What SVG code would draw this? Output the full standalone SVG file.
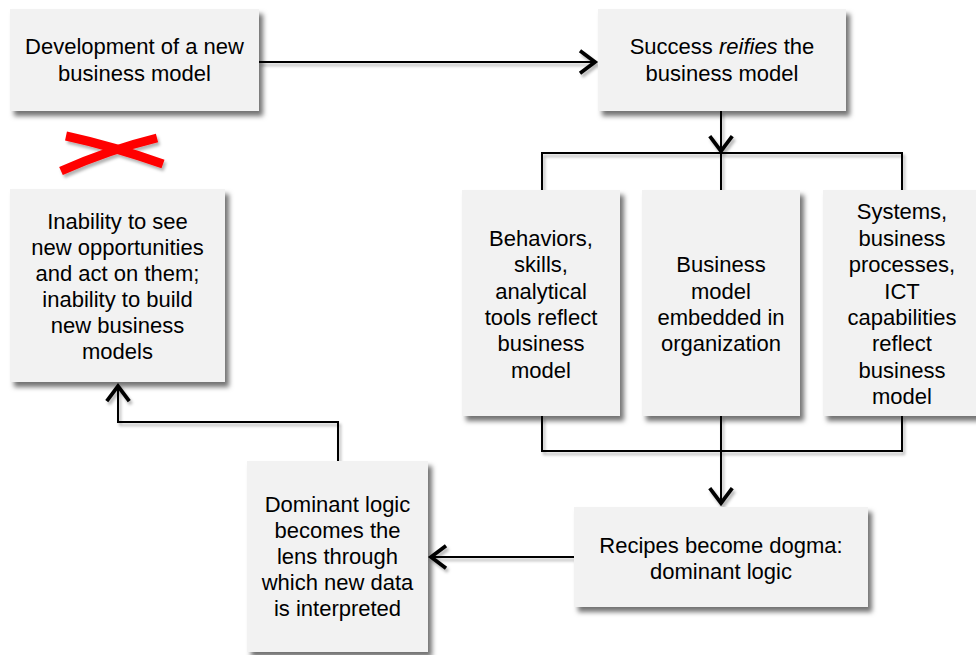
<svg xmlns="http://www.w3.org/2000/svg" width="976" height="655" viewBox="0 0 976 655">
  <style>
    .box { fill: #f2f2f2; filter: url(#shadow); }
    .lbl { font-family: "Liberation Sans", Arial, sans-serif; font-size: 22px; fill: #000; text-anchor: middle; }
    .wire { fill: none; stroke: #000; stroke-width: 2; }
    .head { fill: none; stroke: #000; stroke-width: 3; }
  </style>
  <defs>
    <filter id="shadow" x="-10%" y="-10%" width="130%" height="130%">
      <feDropShadow dx="4" dy="5" stdDeviation="2.5" flood-color="#000" flood-opacity="0.55"/>
    </filter>
    <!-- user-space region so straight (zero-height) lines keep their shadow -->
    <filter id="lineShadow" filterUnits="userSpaceOnUse" x="0" y="0" width="976" height="655">
      <feDropShadow dx="2" dy="3" stdDeviation="1.5" flood-color="#000" flood-opacity="0.3"/>
    </filter>
    <marker id="arrow" markerUnits="userSpaceOnUse" markerWidth="30" markerHeight="30" viewBox="-16 -12 20 24" refX="0" refY="0" orient="auto" overflow="visible">
      <path class="head" d="M -12 -9 L 0 0 L -12 9"/>
    </marker>
  </defs>

  <rect width="976" height="655" fill="#fff"/>

  <!-- connectors -->
  <g id="connectors" filter="url(#lineShadow)">
    <path class="wire" d="M 259 62 H 595" marker-end="url(#arrow)"/>
    <path class="wire" d="M 721 111 V 151" marker-end="url(#arrow)"/>
    <path class="wire" d="M 542 190 V 153 H 902 V 190 M 721 153 V 190"/>
    <path class="wire" d="M 542 416 V 451 H 902 V 416"/>
    <path class="wire" d="M 721 416 V 503" marker-end="url(#arrow)"/>
    <path class="wire" d="M 574 557 H 431" marker-end="url(#arrow)"/>
    <path class="wire" d="M 338 461 V 422 H 118 V 386" marker-end="url(#arrow)"/>
  </g>

  <!-- crossed-out link -->
  <g id="cross" filter="url(#lineShadow)">
    <path d="M 66 136 Q 112 146 163 164" fill="none" stroke="#ff0000" stroke-width="9"/>
    <path d="M 61 171 Q 108 150 157 138" fill="none" stroke="#ff0000" stroke-width="9"/>
  </g>

  <g id="new-model">
    <rect class="box" x="10" y="9" width="249" height="102"/>
    <text class="lbl" x="134.5" y="54">Development of a new</text>
    <text class="lbl" x="134.5" y="81">business model</text>
  </g>

  <g id="success">
    <rect class="box" x="598" y="9" width="248" height="102"/>
    <text class="lbl" x="722" y="54">Success <tspan font-style="italic">reifies</tspan> the</text>
    <text class="lbl" x="722" y="81">business model</text>
  </g>

  <g id="inability">
    <rect class="box" x="10" y="189" width="215" height="193"/>
    <text class="lbl" x="117.5" y="229">Inability to see</text>
    <text class="lbl" x="117.5" y="255">new opportunities</text>
    <text class="lbl" x="117.5" y="281">and act on them;</text>
    <text class="lbl" x="117.5" y="307">inability to build</text>
    <text class="lbl" x="117.5" y="333">new business</text>
    <text class="lbl" x="117.5" y="359">models</text>
  </g>

  <g id="behaviors">
    <rect class="box" x="462" y="190" width="158" height="226"/>
    <text class="lbl" x="541" y="246">Behaviors,</text>
    <text class="lbl" x="541" y="272">skills,</text>
    <text class="lbl" x="541" y="299">analytical</text>
    <text class="lbl" x="541" y="325">tools reflect</text>
    <text class="lbl" x="541" y="351">business</text>
    <text class="lbl" x="541" y="378">model</text>
  </g>

  <g id="embedded">
    <rect class="box" x="642" y="190" width="158" height="226"/>
    <text class="lbl" x="721" y="272">Business</text>
    <text class="lbl" x="721" y="299">model</text>
    <text class="lbl" x="721" y="325">embedded in</text>
    <text class="lbl" x="721" y="351">organization</text>
  </g>

  <g id="systems">
    <rect class="box" x="823" y="190" width="158" height="226"/>
    <text class="lbl" x="902" y="219">Systems,</text>
    <text class="lbl" x="902" y="246">business</text>
    <text class="lbl" x="902" y="272">processes,</text>
    <text class="lbl" x="902" y="299">ICT</text>
    <text class="lbl" x="902" y="325">capabilities</text>
    <text class="lbl" x="902" y="351">reflect</text>
    <text class="lbl" x="902" y="378">business</text>
    <text class="lbl" x="902" y="404">model</text>
  </g>

  <g id="recipes">
    <rect class="box" x="574" y="507" width="294" height="100"/>
    <text class="lbl" x="721" y="553">Recipes become dogma:</text>
    <text class="lbl" x="721" y="579">dominant logic</text>
  </g>

  <g id="dominant">
    <rect class="box" x="247" y="461" width="181" height="191"/>
    <text class="lbl" x="337.5" y="512">Dominant logic</text>
    <text class="lbl" x="337.5" y="538">becomes the</text>
    <text class="lbl" x="337.5" y="564">lens through</text>
    <text class="lbl" x="337.5" y="590">which new data</text>
    <text class="lbl" x="337.5" y="616">is interpreted</text>
  </g>
</svg>
